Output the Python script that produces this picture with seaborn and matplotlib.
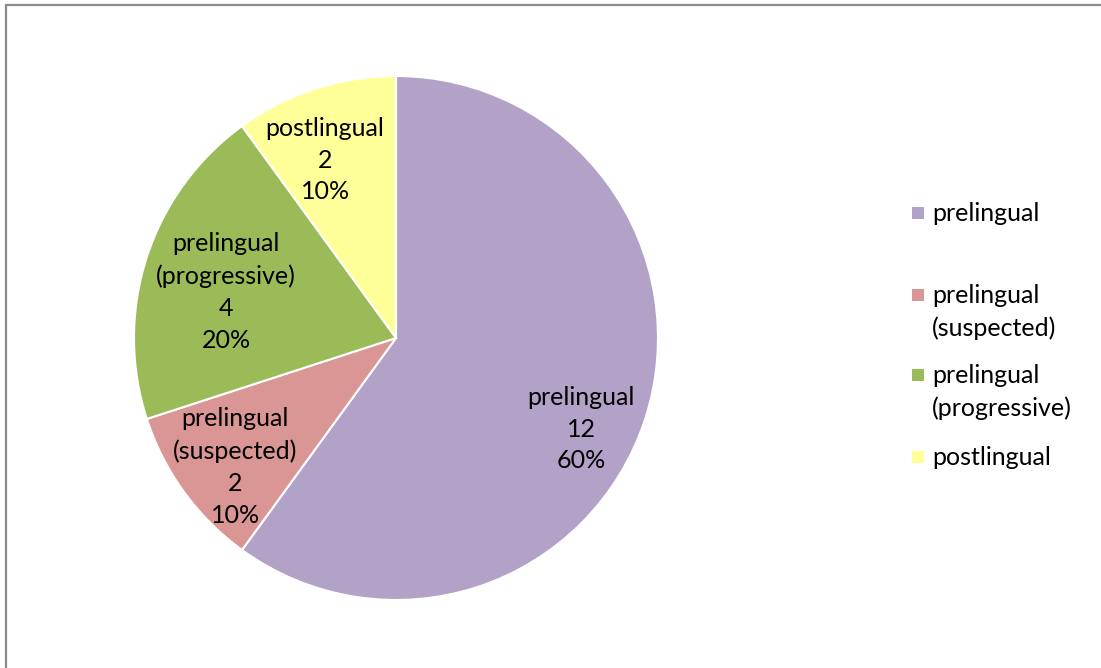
import numpy as np
import matplotlib
matplotlib.use("Agg")
import matplotlib.pyplot as plt
from matplotlib.patches import Rectangle
import seaborn as sns

sns.set_theme(style="white")
plt.rcParams["font.family"] = ["Lato", "DejaVu Sans"]

# Data
categories = ["prelingual", "prelingual\n(suspected)", "prelingual\n(progressive)", "postlingual"]
counts = [12, 2, 4, 2]
colors = ["#B3A2C7", "#D99694", "#9BBB59", "#FFFF99"]

# Label placement: (radial fraction, angle nudge in degrees from wedge middle)
label_layout = [(0.787, -8.2), (0.787, 2.7), (0.672, 2.9), (0.731, 3.7)]

W, H = 1101, 668
fig = plt.figure(figsize=(W / 100, H / 100), dpi=100)
fig.patch.set_facecolor("white")

cx, cy, R = 396, 338, 262
ax = fig.add_axes([(cx - R) / W, (H - cy - R) / H, 2 * R / W, 2 * R / H])
wedges, _ = ax.pie(
    counts,
    colors=colors,
    startangle=90,
    counterclock=False,
    radius=1.0,
    wedgeprops=dict(edgecolor="white", linewidth=1.5),
)
ax.set_xlim(-1, 1)
ax.set_ylim(-1, 1)
ax.set_aspect("equal")
ax.axis("off")

total = sum(counts)
fs = 18
ls = 1.47
for w, cat, n, (rf, nudge) in zip(wedges, categories, counts, label_layout):
    mid = np.deg2rad((w.theta1 + w.theta2) / 2 + nudge)
    x, y = rf * np.cos(mid), rf * np.sin(mid)
    ax.text(x, y, f"{cat}\n{n}\n{n / total:.0%}", ha="center", va="center",
            multialignment="center", fontsize=fs, linespacing=ls, color="black")

# Legend drawn as swatches and labels (y of first text line, in pixels from top)
legend_rows = [213, 295, 375, 457]
for cat, col, ry in zip(categories, colors, legend_rows):
    fig.patches.append(Rectangle((912 / W, (H - ry - 6) / H), 12 / W, 12 / H,
                                 transform=fig.transFigure, facecolor=col,
                                 edgecolor="none"))
    fig.text(932 / W, (H - ry + 11) / H, cat, ha="left", va="top", fontsize=fs,
             linespacing=ls, color="black", transform=fig.transFigure)

# Chart area border
fig.patches.append(Rectangle((6.5 / W, -0.05), 1.2, (H - 4.5) / H + 0.05,
                             transform=fig.transFigure, facecolor="none",
                             edgecolor="#8C8C8C", linewidth=1.6))

fig.savefig("out.png", dpi=100, facecolor="white")
